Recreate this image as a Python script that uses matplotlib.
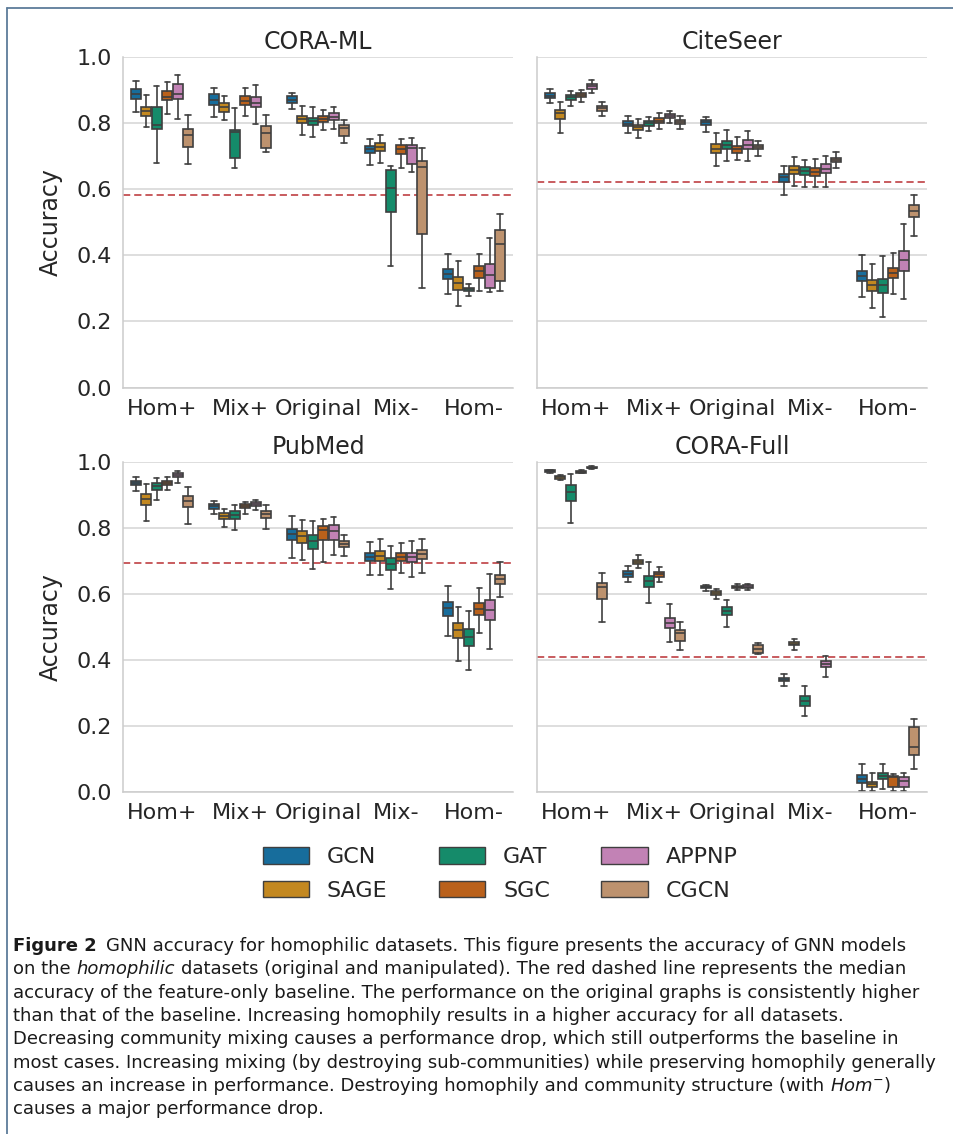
import matplotlib
matplotlib.use("Agg")
import matplotlib.pyplot as plt
import seaborn as sns
from matplotlib.lines import Line2D
from matplotlib.patches import Patch
from matplotlib.transforms import IdentityTransform

categories = ["Hom+", "Mix+", "Original", "Mix-", "Hom-"]
models = ["GCN", "SAGE", "GAT", "SGC", "APPNP", "CGCN"]
datasets = ["CORA-ML", "CiteSeer", "PubMed", "CORA-Full"]

# box summaries per category: (lower whisker, q1, median, q3, upper whisker)
cora_ml = {
    "GCN": [(0.834, 0.872, 0.887, 0.904, 0.928), (0.818, 0.854, 0.870, 0.887, 0.907),
            (0.842, 0.860, 0.870, 0.881, 0.892), (0.673, 0.710, 0.722, 0.732, 0.753),
            (0.284, 0.327, 0.343, 0.359, 0.405)],
    "SAGE": [(0.789, 0.822, 0.837, 0.848, 0.886), (0.809, 0.835, 0.849, 0.862, 0.883),
             (0.765, 0.801, 0.812, 0.822, 0.853), (0.678, 0.715, 0.728, 0.740, 0.765),
             (0.246, 0.296, 0.315, 0.334, 0.383)],
    "GAT": [(0.680, 0.781, 0.794, 0.850, 0.911), (0.665, 0.695, 0.772, 0.779, 0.845),
            (0.759, 0.793, 0.807, 0.816, 0.848), (0.369, 0.530, 0.604, 0.657, 0.671),
            (0.276, 0.291, 0.297, 0.301, 0.314)],
    "SGC": [(0.828, 0.869, 0.880, 0.897, 0.924), (0.821, 0.854, 0.867, 0.883, 0.907),
            (0.779, 0.802, 0.812, 0.822, 0.841), (0.665, 0.707, 0.722, 0.734, 0.753),
            (0.292, 0.331, 0.352, 0.367, 0.404)],
    "APPNP": [(0.811, 0.873, 0.889, 0.919, 0.946), (0.798, 0.848, 0.860, 0.880, 0.914),
              (0.781, 0.808, 0.818, 0.830, 0.850), (0.652, 0.675, 0.724, 0.734, 0.756),
              (0.289, 0.302, 0.339, 0.373, 0.453)],
    "CGCN": [(0.675, 0.728, 0.763, 0.781, 0.825), (0.714, 0.724, 0.771, 0.792, 0.824),
             (0.740, 0.761, 0.784, 0.795, 0.808), (0.302, 0.463, 0.668, 0.685, 0.724),
             (0.293, 0.321, 0.434, 0.476, 0.525)],
}

citeseer = {
    "GCN": [(0.862, 0.877, 0.883, 0.890, 0.904), (0.769, 0.790, 0.798, 0.806, 0.822),
            (0.772, 0.794, 0.804, 0.810, 0.819), (0.582, 0.623, 0.636, 0.646, 0.671),
            (0.274, 0.321, 0.337, 0.353, 0.401)],
    "SAGE": [(0.769, 0.811, 0.830, 0.840, 0.865), (0.754, 0.780, 0.787, 0.795, 0.812),
             (0.669, 0.709, 0.723, 0.736, 0.771), (0.610, 0.645, 0.657, 0.669, 0.698),
             (0.241, 0.292, 0.309, 0.324, 0.375)],
    "GAT": [(0.853, 0.871, 0.878, 0.884, 0.898), (0.775, 0.791, 0.799, 0.806, 0.819),
            (0.684, 0.721, 0.734, 0.746, 0.779), (0.608, 0.644, 0.655, 0.667, 0.689),
            (0.214, 0.285, 0.309, 0.329, 0.398)],
    "SGC": [(0.865, 0.879, 0.886, 0.891, 0.901), (0.783, 0.799, 0.807, 0.814, 0.831),
            (0.687, 0.711, 0.722, 0.732, 0.757), (0.606, 0.640, 0.652, 0.663, 0.691),
            (0.282, 0.330, 0.345, 0.362, 0.407)],
    "APPNP": [(0.891, 0.904, 0.911, 0.917, 0.929), (0.801, 0.815, 0.821, 0.827, 0.838),
              (0.686, 0.722, 0.735, 0.748, 0.775), (0.608, 0.648, 0.662, 0.675, 0.701),
              (0.268, 0.353, 0.386, 0.412, 0.495)],
    "CGCN": [(0.821, 0.838, 0.845, 0.852, 0.865), (0.782, 0.797, 0.803, 0.809, 0.822),
             (0.701, 0.721, 0.728, 0.735, 0.745), (0.663, 0.682, 0.689, 0.695, 0.712),
             (0.458, 0.515, 0.534, 0.551, 0.582)],
}

pubmed = {
    "GCN": [(0.913, 0.929, 0.936, 0.942, 0.954), (0.842, 0.859, 0.866, 0.873, 0.883),
            (0.708, 0.763, 0.781, 0.798, 0.835), (0.658, 0.699, 0.712, 0.723, 0.759),
            (0.472, 0.534, 0.557, 0.575, 0.624)],
    "SAGE": [(0.822, 0.871, 0.887, 0.902, 0.932), (0.802, 0.827, 0.836, 0.845, 0.859),
             (0.702, 0.756, 0.775, 0.790, 0.824), (0.657, 0.700, 0.715, 0.731, 0.768),
             (0.398, 0.466, 0.491, 0.511, 0.561)],
    "GAT": [(0.886, 0.914, 0.927, 0.936, 0.952), (0.793, 0.827, 0.839, 0.851, 0.869),
            (0.675, 0.737, 0.762, 0.779, 0.820), (0.616, 0.672, 0.692, 0.710, 0.746),
            (0.370, 0.443, 0.471, 0.494, 0.549)],
    "SGC": [(0.914, 0.930, 0.937, 0.943, 0.956), (0.842, 0.860, 0.866, 0.872, 0.880),
            (0.696, 0.763, 0.795, 0.807, 0.828), (0.663, 0.700, 0.713, 0.725, 0.755),
            (0.481, 0.535, 0.555, 0.574, 0.617)],
    "APPNP": [(0.936, 0.954, 0.961, 0.966, 0.972), (0.855, 0.868, 0.874, 0.879, 0.884),
              (0.717, 0.765, 0.792, 0.808, 0.833), (0.652, 0.696, 0.712, 0.724, 0.761),
              (0.433, 0.522, 0.553, 0.581, 0.660)],
    "CGCN": [(0.812, 0.863, 0.883, 0.898, 0.923), (0.798, 0.829, 0.842, 0.853, 0.871),
             (0.715, 0.742, 0.751, 0.760, 0.780), (0.663, 0.706, 0.720, 0.734, 0.768),
             (0.591, 0.629, 0.645, 0.658, 0.698)],
}

# SGC and CGCN have no Mix- runs on CORA-Full
cora_full = {
    "GCN": [(0.967, 0.970, 0.973, 0.975, 0.977), (0.636, 0.653, 0.662, 0.669, 0.685),
            (0.609, 0.617, 0.621, 0.624, 0.628), (0.320, 0.335, 0.340, 0.345, 0.358),
            (0.003, 0.026, 0.039, 0.052, 0.086)],
    "SAGE": [(0.944, 0.950, 0.954, 0.957, 0.961), (0.678, 0.692, 0.698, 0.704, 0.717),
             (0.586, 0.598, 0.603, 0.608, 0.614), (0.431, 0.444, 0.449, 0.455, 0.465),
             (0.003, 0.015, 0.024, 0.031, 0.059)],
    "GAT": [(0.814, 0.882, 0.909, 0.931, 0.964), (0.573, 0.620, 0.639, 0.655, 0.698),
            (0.499, 0.535, 0.548, 0.560, 0.582), (0.231, 0.262, 0.277, 0.291, 0.320),
            (0.010, 0.039, 0.049, 0.057, 0.086)],
    "SGC": [(0.966, 0.968, 0.971, 0.974, 0.976), (0.635, 0.653, 0.660, 0.667, 0.683),
            (0.611, 0.617, 0.621, 0.624, 0.629), None,
            (0.003, 0.016, 0.045, 0.047, 0.054)],
    "APPNP": [(0.979, 0.981, 0.983, 0.985, 0.987), (0.455, 0.498, 0.513, 0.528, 0.570),
              (0.612, 0.618, 0.622, 0.626, 0.630), (0.349, 0.378, 0.388, 0.397, 0.412),
              (0.003, 0.015, 0.033, 0.046, 0.057)],
    "CGCN": [(0.516, 0.586, 0.622, 0.633, 0.663), (0.429, 0.458, 0.482, 0.491, 0.514),
             (0.418, 0.420, 0.432, 0.445, 0.451), None,
             (0.069, 0.112, 0.136, 0.198, 0.220)],
}

# median accuracy of the feature-only baseline
baseline = [0.582, 0.622, 0.693, 0.408]

caption_lines = [
    [("Figure 2", "bold"), ("GNN accuracy for homophilic datasets. This figure presents the accuracy of GNN models", None)],
    [("on the", None), ("homophilic", "italic"), ("datasets (original and manipulated). The red dashed line represents the median", None)],
    [("accuracy of the feature-only baseline. The performance on the original graphs is consistently higher", None)],
    [("than that of the baseline. Increasing homophily results in a higher accuracy for all datasets.", None)],
    [("Decreasing community mixing causes a performance drop, which still outperforms the baseline in", None)],
    [("most cases. Increasing mixing (by destroying sub-communities) while preserving homophily generally", None)],
    [("causes an increase in performance. Destroying homophily and community structure (with", None), (r"$Hom^{-}$)", None)],
    [("causes a major performance drop.", None)],
]

sns.set_style("whitegrid")
plt.rcParams["font.family"] = ["DejaVu Sans"]

W, H = 954, 1134
fig = plt.figure(figsize=(W / 100, H / 100), dpi=100)

colors = [sns.desaturate(c, 0.75) for c in sns.color_palette("colorblind", 6)]
line_gray = "#3f3f3f"

# axes rectangles in pixels: left, top, right, bottom
rects = [(123, 57, 513, 387.5), (537, 57, 927, 387.5),
         (123, 462, 513, 792), (537, 462, 927, 792)]
all_data = [cora_ml, citeseer, pubmed, cora_full]

n = len(models)
box_w = 0.8 / n * 0.98
axes = []
for k, (x0, y0, x1, y1) in enumerate(rects):
    ax = fig.add_axes([x0 / W, 1 - y1 / H, (x1 - x0) / W, (y1 - y0) / H])
    axes.append(ax)
    data = all_data[k]
    for m, model in enumerate(models):
        stats, pos = [], []
        for c in range(len(categories)):
            s = data[model][c]
            if s is None:
                continue
            lo, q1, med, q3, hi = s
            stats.append(dict(whislo=lo, q1=q1, med=med, q3=q3, whishi=hi, fliers=[]))
            pos.append(c - 0.4 + 0.8 / n * (m + 0.5))
        ax.bxp(stats, positions=pos, widths=box_w, patch_artist=True,
               showfliers=False, manage_ticks=False,
               boxprops=dict(facecolor=colors[m], edgecolor=line_gray, linewidth=1.2),
               whiskerprops=dict(color=line_gray, linewidth=1.2),
               capprops=dict(color=line_gray, linewidth=1.2),
               medianprops=dict(color=line_gray, linewidth=1.2))
    ax.axhline(baseline[k], color="#c44e52", ls="--", lw=1.3, dashes=(4, 2.2), zorder=1)
    ax.set_xlim(-0.5, len(categories) - 0.5)
    ax.set_ylim(0, 1.0)
    ax.set_yticks([0.0, 0.2, 0.4, 0.6, 0.8, 1.0])
    ax.set_xticks(range(len(categories)))
    ax.set_xticklabels(categories, fontsize=16)
    ax.tick_params(axis="both", length=0, labelsize=16, labelcolor="#262626", pad=8)
    ax.grid(axis="x", visible=False)
    ax.grid(axis="y", color="#d4d4d4", lw=1.1)
    ax.set_axisbelow(True)
    for side in ["top", "right"]:
        ax.spines[side].set_visible(False)
    for side in ["left", "bottom"]:
        ax.spines[side].set_color("#cccccc")
        ax.spines[side].set_linewidth(1.1)
    ax.set_title(datasets[k], fontsize=17, color="#262626", pad=6)
    if k % 2 == 0:
        ax.set_ylabel("Accuracy", fontsize=17, color="#262626", labelpad=10)
        ax.set_yticklabels(["0.0", "0.2", "0.4", "0.6", "0.8", "1.0"])
    else:
        ax.set_yticklabels([])

handles = [Patch(facecolor=colors[i], edgecolor=line_gray, linewidth=1.0) for i in range(n)]
fig.legend(handles, models, loc="center", bbox_to_anchor=(500 / W, 1 - 874 / H),
           ncol=3, frameon=False, fontsize=16, handlelength=2.1, handleheight=0.75,
           handletextpad=0.8, columnspacing=2.3, labelspacing=0.6)

# caption, laid out segment by segment in pixel coordinates
renderer = fig.canvas.get_renderer()
cap_size = 12.95
probe = fig.text(0, 0, "a a", fontsize=cap_size, transform=IdentityTransform())
probe2 = fig.text(0, 0, "aa", fontsize=cap_size, transform=IdentityTransform())
space = probe.get_window_extent(renderer).width - probe2.get_window_extent(renderer).width
probe.remove()
probe2.remove()
base_y = 951
for i, segs in enumerate(caption_lines):
    x = 13
    y = H - (base_y + i * 23.3)
    for j, (txt, style) in enumerate(segs):
        kw = {}
        if style == "bold":
            kw["fontweight"] = "bold"
        elif style == "italic":
            kw["fontstyle"] = "italic"
        t = fig.text(x, y, txt, fontsize=cap_size, color="#1a1a1a", va="baseline",
                     ha="left", transform=IdentityTransform(), **kw)
        ext = t.get_window_extent(renderer)
        x = ext.x1 + space * (1.6 if style == "bold" else 1.0)

# frame around the figure
fig.add_artist(Line2D([7.5 / W, 1], [1 - 7.5 / H, 1 - 7.5 / H], transform=fig.transFigure,
                      color="#5d7c9a", lw=1.3))
fig.add_artist(Line2D([7.5 / W, 7.5 / W], [0, 1 - 7.5 / H], transform=fig.transFigure,
                      color="#5d7c9a", lw=1.3))

fig.savefig("out.png", dpi=100)
